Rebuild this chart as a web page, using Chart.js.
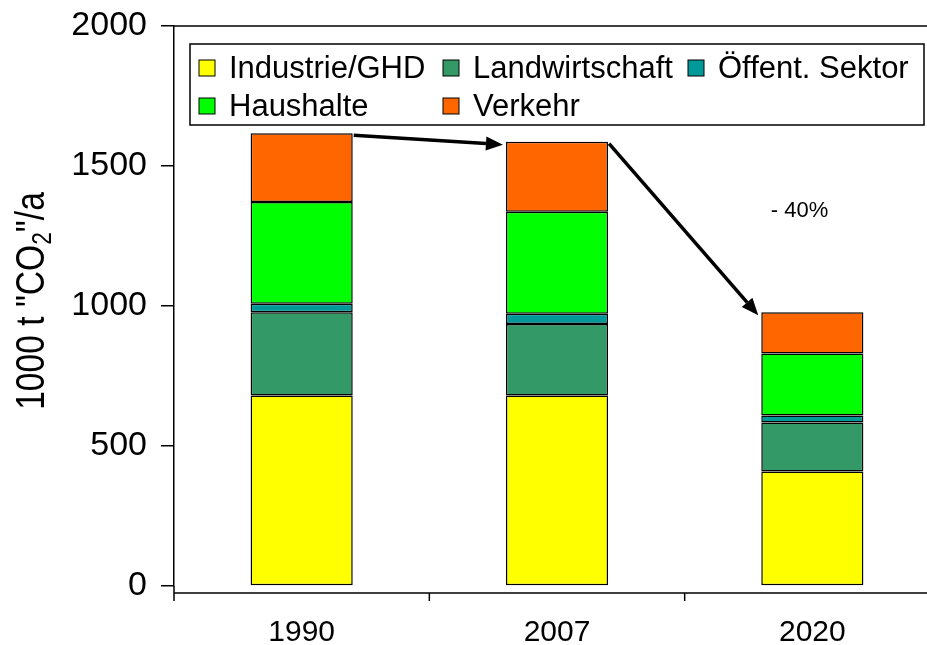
<!DOCTYPE html>
<html>
<head>
<meta charset="utf-8">
<script src="https://cdn.jsdelivr.net/npm/chart.js@4.4.1/dist/chart.umd.min.js"></script>
<style>
    html, body { margin: 0; padding: 0; background: #fff; overflow: hidden; }
    #box { width: 945px; height: 645px; position: relative; }
</style>
</head>
<body>
<div id="box"><canvas id="grafico"></canvas></div>
<script>
// Daten
const jahre = ['1990', '2007', '2020'];
const industrie = [680, 680, 409];
const landwirtschaft = [298, 256, 175];
const oeffentlich = [30, 36, 25];
const haushalte = [363, 365, 221];
const verkehr = [246, 250, 148];

const sektoren = ['Industrie/GHD', 'Landwirtschaft', 'Öffent. Sektor', 'Haushalte', 'Verkehr'];
const farben = ['#FFFF00', '#339966', '#009999', '#00FF00', '#FF6600'];
const yTicks = [0, 500, 1000, 1500, 2000];
const aenderung = '- 40%';
const achsenTitel = ['1000 t "CO', '2', '"/a'];

const schrift = '"Liberation Sans", Arial, sans-serif';

const reihen = [industrie, landwirtschaft, oeffentlich, haushalte, verkehr];

// Pfeil zeichnen
function pfeil(ctx, x1, y1, x2, y2) {
    const winkel = Math.atan2(y2 - y1, x2 - x1);
    const laenge = 17, breite = 7;
    const bx = x2 - laenge * Math.cos(winkel);
    const by = y2 - laenge * Math.sin(winkel);
    ctx.save();
    ctx.strokeStyle = '#000';
    ctx.fillStyle = '#000';
    ctx.lineWidth = 3.5;
    ctx.beginPath();
    ctx.moveTo(x1, y1);
    ctx.lineTo(bx, by);
    ctx.stroke();
    ctx.beginPath();
    ctx.moveTo(x2, y2);
    ctx.lineTo(bx + breite * Math.sin(winkel), by - breite * Math.cos(winkel));
    ctx.lineTo(bx - breite * Math.sin(winkel), by + breite * Math.cos(winkel));
    ctx.closePath();
    ctx.fill();
    ctx.restore();
}

// Zusätzliche Elemente: Achsen unten, Titel, Legende, Pfeile, Text
const extras = {
    id: 'extras',
    afterDraw(chart) {
        const ctx = chart.ctx;
        const area = chart.chartArea;
        const xs = chart.scales.x;
        const ys = chart.scales.y;

        ctx.save();
        ctx.strokeStyle = '#000';
        ctx.lineWidth = 1.5;

        // obere Rahmenlinie
        ctx.beginPath();
        ctx.moveTo(area.left, area.top);
        ctx.lineTo(area.right, area.top);
        ctx.stroke();

        // x-Achse etwas unterhalb von 0
        const xAchse = area.bottom + 7;
        ctx.beginPath();
        ctx.moveTo(area.left, area.bottom);
        ctx.lineTo(area.left, area.bottom + 15);
        ctx.moveTo(area.left, xAchse);
        ctx.lineTo(area.right, xAchse);
        for (let i = 0; i <= jahre.length; i++) {
            const x = xs.getPixelForValue(i - 0.5);
            ctx.moveTo(x, xAchse);
            ctx.lineTo(x, xAchse + 8);
        }
        ctx.stroke();

        // y-Achsentitel mit tiefgestellter 2
        ctx.save();
        ctx.translate(30, 301);
        ctx.rotate(-Math.PI / 2);
        ctx.scale(0.84, 1);
        ctx.fillStyle = '#000';
        ctx.textBaseline = 'alphabetic';
        ctx.font = '40px ' + schrift;
        const w1 = ctx.measureText(achsenTitel[0]).width;
        const w3 = ctx.measureText(achsenTitel[2]).width;
        ctx.font = '27px ' + schrift;
        const w2 = ctx.measureText(achsenTitel[1]).width;
        let x = -(w1 + w2 + w3) / 2;
        const basis = 14;
        ctx.font = '40px ' + schrift;
        ctx.fillText(achsenTitel[0], x, basis);
        x += w1;
        ctx.font = '27px ' + schrift;
        ctx.fillText(achsenTitel[1], x, basis + 7);
        x += w2;
        ctx.font = '40px ' + schrift;
        ctx.fillText(achsenTitel[2], x, basis);
        ctx.restore();

        // Pfeile zwischen den Säulenspitzen
        const oben = chart.getDatasetMeta(reihen.length - 1).data;
        for (let i = 0; i < oben.length - 1; i++) {
            const a = oben[i], b = oben[i + 1];
            pfeil(ctx, a.x + a.width / 2 + 1, a.y + 2, b.x - b.width / 2 - 3, b.y + 3);
        }

        // Text "- 40%"
        ctx.fillStyle = '#000';
        ctx.font = '22px ' + schrift;
        ctx.textAlign = 'center';
        ctx.textBaseline = 'middle';
        ctx.fillText(aenderung, xs.getPixelForValue(1.95), ys.getPixelForValue(1340));

        // Legende
        const lx = 190, ly = 44, lw = 734, lh = 81;
        ctx.fillStyle = '#fff';
        ctx.fillRect(lx, ly, lw, lh);
        ctx.strokeRect(lx, ly, lw, lh);
        const spalten = [199, 443, 688];
        const zeilen = [68, 106];
        ctx.font = '31px ' + schrift;
        ctx.textAlign = 'left';
        sektoren.forEach((name, i) => {
            const sx = spalten[i % 3];
            const sy = zeilen[Math.floor(i / 3)];
            ctx.fillStyle = farben[i];
            ctx.fillRect(sx, sy - 8, 16, 16);
            ctx.lineWidth = 1;
            ctx.strokeRect(sx, sy - 8, 16, 16);
            ctx.fillStyle = '#000';
            ctx.fillText(name, sx + 30, sy + 1);
        });

        ctx.restore();
    }
};

const datasets = sektoren.map((name, i) => ({
    label: name,
    data: reihen[i],
    backgroundColor: farben[i],
    borderColor: '#000',
    borderWidth: 1.5,
    borderSkipped: false,
    barPercentage: 0.4,
    categoryPercentage: 1.0
}));

new Chart(document.getElementById('grafico').getContext('2d'), {
    type: 'bar',
    data: { labels: jahre, datasets: datasets },
    options: {
        responsive: true,
        maintainAspectRatio: false,
        animation: false,
        layout: { padding: { top: 26, right: 5, left: 0, bottom: 0 } },
        plugins: {
            legend: { display: false },
            tooltip: { enabled: false }
        },
        scales: {
            x: {
                stacked: true,
                grid: { display: false },
                border: { display: false },
                ticks: {
                    font: { size: 30, family: schrift },
                    color: '#000',
                    padding: 21,
                    maxRotation: 0
                },
                afterFit: s => { s.height = 59; s.paddingLeft = 0; s.paddingRight = 0; }
            },
            y: {
                stacked: true,
                min: 0,
                max: 2000,
                afterBuildTicks: s => { s.ticks = yTicks.map(v => ({ value: v })); },
                grid: { drawOnChartArea: false, tickLength: 13, color: '#000', lineWidth: 1.5 },
                border: { color: '#000', width: 1.5 },
                ticks: {
                    font: { size: 34, family: schrift },
                    color: '#000',
                    padding: 14,
                    callback: v => String(v)
                },
                afterFit: s => { s.width = 174; s.paddingTop = 0; s.paddingBottom = 0; }
            }
        }
    },
    plugins: [extras]
});
</script>
</body>
</html>
